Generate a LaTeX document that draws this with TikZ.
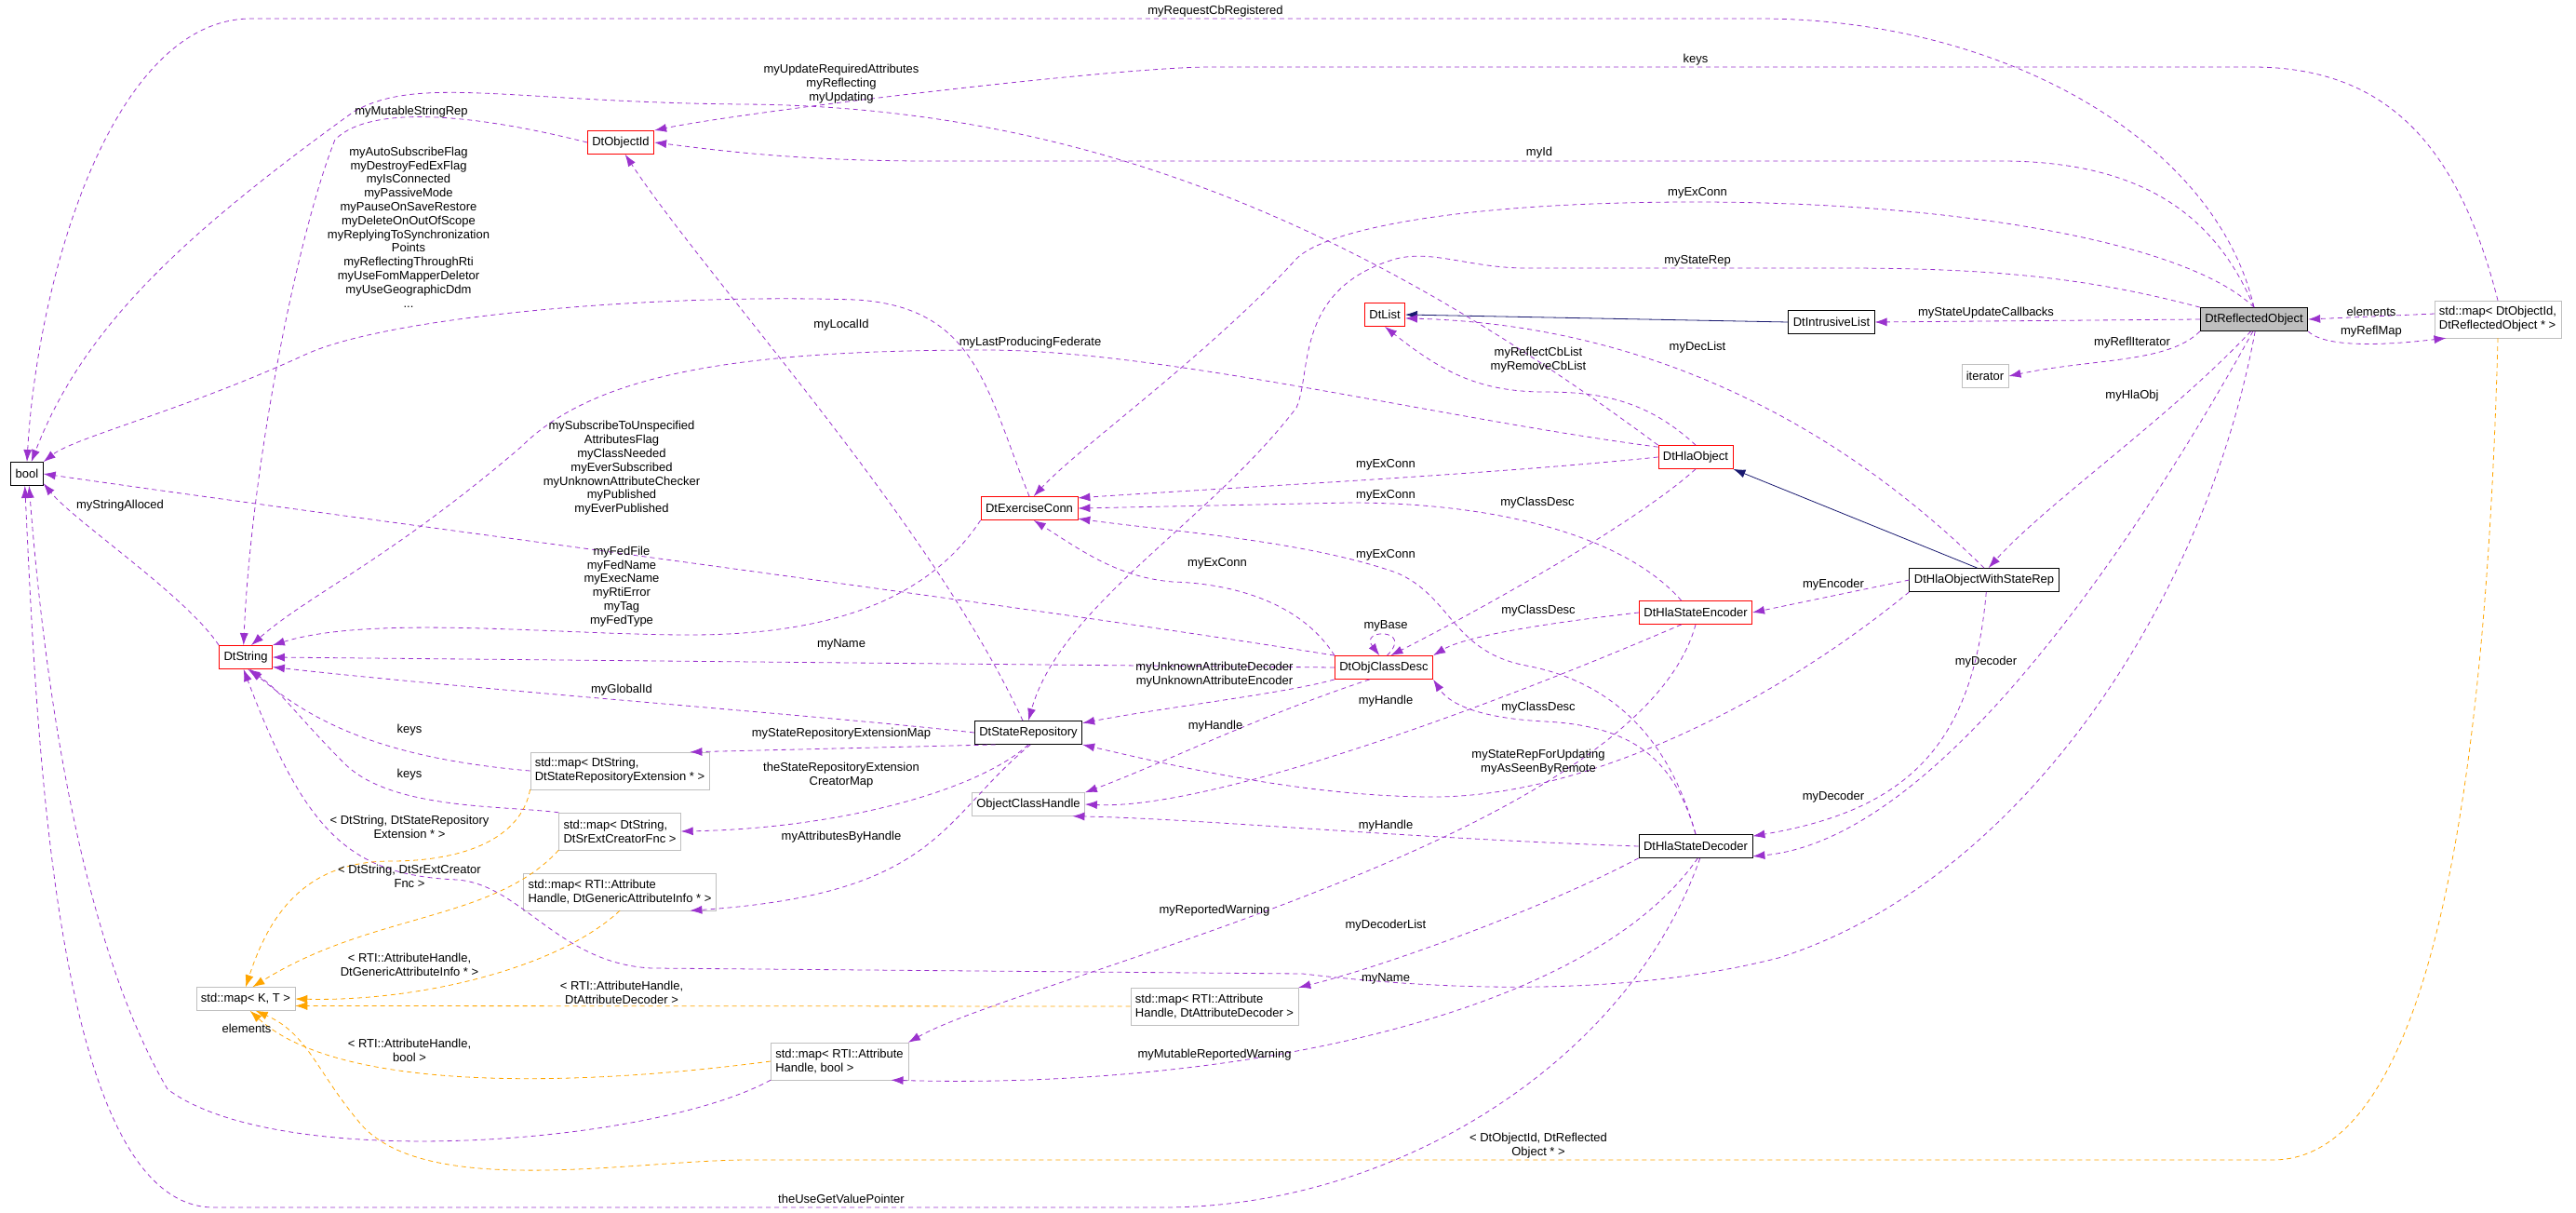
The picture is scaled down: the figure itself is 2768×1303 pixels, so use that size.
\documentclass[tikz,border=0pt]{standalone}
\usepackage{fontspec}
\setmainfont{Liberation Sans}
\usetikzlibrary{arrows.meta}
\definecolor{relpurple}{HTML}{9A32CD}
\definecolor{tplorange}{HTML}{FFA500}
\definecolor{inhnavy}{HTML}{191970}
\definecolor{boxgray}{HTML}{BFBFBF}
\begin{document}
\begin{tikzpicture}[x=1pt,y=-1pt,
font=\fontsize{13}{14.8}\selectfont,
cls/.style ={draw=black,thick,fill=white,inner xsep=5pt,minimum height=25pt},
redcls/.style ={cls,draw=red},
ext/.style ={draw=boxgray,fill=white,inner xsep=5pt,minimum height=25pt},
tmap/.style ={ext,align=left,minimum height=40pt},
rel/.style ={draw=relpurple,thick,dash pattern=on 5pt off 4pt,-{Latex[length=13pt,width=9pt]}},
tpl/.style ={draw=tplorange,thick,dash pattern=on 5pt off 4pt,-{Latex[length=13pt,width=9pt]}},
inh/.style ={draw=inhnavy,thick,-{Latex[length=13pt,width=9pt]}},
lbl/.style ={align=center,inner sep=0pt}]
\useasboundingbox (0,0) rectangle (2768,1303);
% classes
\node[cls] (bool) at (29,509) {bool};
\node[redcls] (oid) at (667,153) {DtObjectId};
\node[redcls] (exc) at (1106,546) {DtExerciseConn};
\node[redcls] (str) at (264,706) {DtString};
\node[cls] (sr) at (1105,787) {DtStateRepository};
\node[tmap] (m1) at (666,828) {std::map< DtString,\\DtStateRepositoryExtension * >};
\node[tmap] (m2) at (666,893) {std::map< DtString,\\DtSrExtCreatorFnc >};
\node[tmap] (m3) at (666,958) {std::map< RTI::Attribute\\Handle, DtGenericAttributeInfo * >};
\node[ext] (och) at (1105,864) {ObjectClassHandle};
\node[ext] (mkt) at (264,1073) {std::map< K, T >};
\node[tmap] (mb) at (902,1140) {std::map< RTI::Attribute\\Handle, bool >};
\node[tmap] (m4) at (1305,1081) {std::map< RTI::Attribute\\Handle, DtAttributeDecoder >};
\node[redcls] (ocd) at (1487,717) {DtObjClassDesc};
\node[redcls] (enc) at (1822,658) {DtHlaStateEncoder};
\node[cls] (dec) at (1822,909) {DtHlaStateDecoder};
\node[cls] (wsr) at (2132,623) {DtHlaObjectWithStateRep};
\node[redcls] (hla) at (1822,491) {DtHlaObject};
\node[redcls] (dl) at (1488,338) {DtList};
\node[cls] (il) at (1968,346) {DtIntrusiveList};
\node[cls,fill=boxgray] (ro) at (2422,343) {DtReflectedObject};
\node[tmap] (mref) at (2684,343) {std::map< DtObjectId,\\DtReflectedObject * >};
\node[ext] (it) at (2133,404) {iterator};

% inheritance
\draw[inh] (il.west) -- (dl.east);
\draw[inh] (wsr.120) -- (hla.south east);

% usage
\draw[rel] (ro.north) .. controls (2380,150) and (2150,20) .. (1890,20) -- (270,20) .. controls (120,20) and (40,300) .. (bool.north);
\draw[rel] (mref.north) .. controls (2640,150) and (2560,72) .. (2420,72) -- (1300,72) .. controls (1200,72) and (800,120) .. (oid.north east);
\draw[rel] (ro.north) .. controls (2380,230) and (2300,173) .. (2150,173) -- (1000,173) .. controls (850,173) and (760,160) .. (oid.east);
\draw[rel] (hla.north west) .. controls (1500,270) and (1200,115) .. (800,112) .. controls (550,110) and (450,80) .. (380,120) .. controls (200,250) and (90,350) .. (bool.70);
\draw[rel] (oid.west) .. controls (520,125) and (400,110) .. (360,150) .. controls (320,250) and (270,500) .. (str.100);
\draw[rel] (sr.115) .. controls (1000,560) and (760,300) .. (oid.-70);
\draw[rel] (exc.north) .. controls (1060,420) and (1050,330) .. (920,322) .. controls (700,315) and (420,340) .. (330,380) .. controls (200,440) and (80,470) .. (bool.north east);
\draw[rel] (ocd.north west) .. controls (1100,650) and (400,560) .. (bool.east);
\draw[rel] (str.north west) .. controls (200,640) and (80,560) .. (bool.-30);
\draw[rel] (ro.north) .. controls (2350,260) and (2100,217) .. (1822,217) .. controls (1550,217) and (1420,250) .. (1393,278) .. controls (1300,380) and (1160,480) .. (exc.70);
\draw[rel] (ro.north west) .. controls (2250,300) and (2150,288) .. (1980,288) -- (1640,288) .. controls (1580,288) and (1540,268) .. (1500,278) .. controls (1390,310) and (1410,400) .. (1393,438) .. controls (1300,560) and (1140,650) .. (sr.north);
\draw[rel] (ro.west) -- (il.east);
\draw[rel] (hla.north) .. controls (1770,430) and (1720,421) .. (1660,421) .. controls (1590,421) and (1550,400) .. (dl.south);
\draw[rel] (wsr.north) .. controls (2000,480) and (1800,350) .. (dl.-10);
\draw[rel] (ro.south west) .. controls (2330,390) and (2250,385) .. (it.east);
\draw[rel] (ro.south east) .. controls (2500,375) and (2570,370) .. (mref.200);
\draw[rel] (mref.175) -- (ro.east);
\draw[rel] (ro.255) .. controls (2330,450) and (2200,540) .. (wsr.70);
\draw[rel] (hla.west) .. controls (1600,510) and (1300,525) .. (exc.12);
\draw[rel] (enc.140) .. controls (1750,580) and (1620,540) .. (1450,540) -- (exc.east);
\draw[rel] (dec.north) .. controls (1790,780) and (1720,730) .. (1640,715) .. controls (1560,700) and (1560,640) .. (1500,615) .. controls (1400,580) and (1250,570) .. (exc.-12);
\draw[rel] (ocd.north west) .. controls (1400,650) and (1330,627) .. (1260,625) .. controls (1200,620) and (1160,590) .. (exc.290);
\draw[rel] (hla.south) .. controls (1760,560) and (1600,650) .. (ocd.60);
\draw[rel] (enc.west) .. controls (1700,665) and (1580,680) .. (ocd.north east);
\draw[rel] (dec.north) .. controls (1800,820) and (1760,780) .. (1660,775) .. controls (1600,772) and (1560,760) .. (ocd.south east);
\draw[rel] (ocd.75) .. controls (1520,675) and (1460,675) .. (ocd.110);
\draw[rel] (exc.south west) .. controls (1000,640) and (900,682) .. (741,682) .. controls (600,682) and (400,660) .. (str.north east);
\draw[rel] (ocd.west) -- (str.east);
\draw[rel] (hla.165) .. controls (1550,450) and (1250,376) .. (1060,376) .. controls (800,376) and (640,400) .. (560,480) .. controls (420,600) and (330,640) .. (str.65);
\draw[rel] (sr.west) .. controls (900,770) and (500,740) .. (str.-20);
\draw[rel] (ocd.south west) .. controls (1380,745) and (1250,760) .. (sr.10);
\draw[rel] (sr.200) -- (m1.15);
\draw[rel] (m1.west) .. controls (420,815) and (340,780) .. (str.-70);
\draw[rel] (sr.south) .. controls (1050,850) and (900,890) .. (m2.east);
\draw[rel] (m2.north west) .. controls (540,865) and (420,870) .. (370,820) .. controls (320,770) and (300,740) .. (str.-80);
\draw[rel] (sr.-80) .. controls (1010,880) and (1010,960) .. (m3.-15);
\draw[rel] (ocd.220) .. controls (1350,770) and (1250,820) .. (och.north east);
\draw[rel] (enc.220) .. controls (1600,760) and (1300,870) .. (och.east);
\draw[rel] (dec.west) .. controls (1500,900) and (1300,880) .. (och.-15);
\draw[rel] (wsr.south west) .. controls (1900,760) and (1700,856) .. (1540,856) .. controls (1400,856) and (1250,820) .. (sr.south east);
\draw[rel] (wsr.west) -- (enc.east);
\draw[rel] (wsr.-80) .. controls (2120,800) and (2050,870) .. (dec.10);
\draw[rel] (ro.-95) .. controls (2330,520) and (2100,900) .. (dec.-10);
\draw[rel] (ro.-85) .. controls (2371,640) and (2176,945) .. (1911,1029) .. controls (1750,1070) and (1560,1065) .. (1400,1046) -- (700,1040) .. controls (600,1035) and (560,950) .. (491,945) .. controls (380,940) and (330,900) .. (str.-100);
\draw[rel] (enc.south) .. controls (1760,900) and (1100,1050) .. (mb.north east);
\draw[rel] (dec.south west) .. controls (1650,980) and (1480,1040) .. (m4.north east);
\draw[rel] (dec.-80) .. controls (1700,1100) and (1300,1170) .. (mb.-20);
\draw[rel] (dec.-70) .. controls (1750,1140) and (1500,1297) .. (1250,1297) -- (230,1297) .. controls (60,1297) and (40,800) .. (bool.-100);
\draw[rel] (mb.south west) .. controls (700,1230) and (300,1260) .. (180,1170) .. controls (80,1000) and (45,700) .. (bool.-80);

% templates
\draw[tpl] (m1.south west) .. controls (560,900) and (500,925) .. (420,925) .. controls (330,925) and (290,980) .. (mkt.north);
\draw[tpl] (m2.south west) .. controls (530,990) and (400,980) .. (mkt.60);
\draw[tpl] (m3.south) .. controls (600,1040) and (450,1076) .. (mkt.east);
\draw[tpl] (m4.west) -- (mkt.-8);
\draw[tpl] (mb.west) .. controls (600,1170) and (360,1170) .. (mkt.-70);
\draw[tpl] (mref.south) .. controls (2670,900) and (2600,1246) .. (2442,1246) -- (804,1246) .. controls (680,1246) and (450,1290) .. (384,1203) .. controls (340,1150) and (330,1110) .. (mkt.-50);

% labels
\node[lbl] (l1) at (1306,12) {myRequestCbRegistered};
\node[lbl] (l2) at (1822,64) {keys};
\node[lbl] (l3) at (904,90) {myUpdateRequiredAttributes\\myReflecting\\myUpdating};
\node[lbl] (l4) at (442,120) {myMutableStringRep};
\node[lbl] (l5) at (1654,164) {myId};
\node[lbl] (l6) at (439,244) {myAutoSubscribeFlag\\myDestroyFedExFlag\\myIsConnected\\myPassiveMode\\myPauseOnSaveRestore\\myDeleteOnOutOfScope\\myReplyingToSynchronization\\Points\\myReflectingThroughRti\\myUseFomMapperDeletor\\myUseGeographicDdm\\...};
\node[lbl] (l7) at (1824,207) {myExConn};
\node[lbl] (l8) at (1824,280) {myStateRep};
\node[lbl] (l9) at (2134,336) {myStateUpdateCallbacks};
\node[lbl] (l10) at (2548,335) {elements};
\node[lbl] (l11) at (2548,356) {myReflMap};
\node[lbl] (l12) at (2291,368) {myReflIterator};
\node[lbl] (l13) at (1824,373) {myDecList};
\node[lbl] (l14) at (1653,387) {myReflectCbList\\myRemoveCbList};
\node[lbl] (l15) at (904,349) {myLocalId};
\node[lbl] (l16) at (1107,368) {myLastProducingFederate};
\node[lbl] (l17) at (2291,425) {myHlaObj};
\node[lbl] (l18) at (668,503) {mySubscribeToUnspecified\\AttributesFlag\\myClassNeeded\\myEverSubscribed\\myUnknownAttributeChecker\\myPublished\\myEverPublished};
\node[lbl] (l19) at (129,543) {myStringAlloced};
\node[lbl] (l20) at (1489,499) {myExConn};
\node[lbl] (l21) at (1489,532) {myExConn};
\node[lbl] (l22) at (1489,596) {myExConn};
\node[lbl] (l23) at (1308,605) {myExConn};
\node[lbl] (l24) at (1652,540) {myClassDesc};
\node[lbl] (l25) at (1653,656) {myClassDesc};
\node[lbl] (l26) at (1653,760) {myClassDesc};
\node[lbl] (l27) at (668,630) {myFedFile\\myFedName\\myExecName\\myRtiError\\myTag\\myFedType};
\node[lbl] (l28) at (1489,672) {myBase};
\node[lbl] (l29) at (904,692) {myName};
\node[lbl] (l30) at (1305,725) {myUnknownAttributeDecoder\\myUnknownAttributeEncoder};
\node[lbl] (l31) at (668,741) {myGlobalId};
\node[lbl] (l32) at (1306,780) {myHandle};
\node[lbl] (l33) at (1489,753) {myHandle};
\node[lbl] (l34) at (1489,887) {myHandle};
\node[lbl] (l35) at (440,784) {keys};
\node[lbl] (l36) at (440,832) {keys};
\node[lbl] (l37) at (904,788) {myStateRepositoryExtensionMap};
\node[lbl] (l38) at (904,833) {theStateRepositoryExtension\\CreatorMap};
\node[lbl] (l39) at (1970,628) {myEncoder};
\node[lbl] (l40) at (2134,711) {myDecoder};
\node[lbl] (l41) at (1970,856) {myDecoder};
\node[lbl] (l42) at (1653,819) {myStateRepForUpdating\\myAsSeenByRemote};
\node[lbl] (l43) at (440,888) {< DtString, DtStateRepository\\Extension * >};
\node[lbl] (l44) at (904,899) {myAttributesByHandle};
\node[lbl] (l45) at (440,941) {< DtString, DtSrExtCreator\\Fnc >};
\node[lbl] (l46) at (1305,978) {myReportedWarning};
\node[lbl] (l47) at (1489,994) {myDecoderList};
\node[lbl] (l48) at (440,1036) {< RTI::AttributeHandle,\\DtGenericAttributeInfo * >};
\node[lbl] (l49) at (1489,1051) {myName};
\node[lbl] (l50) at (668,1066) {< RTI::AttributeHandle,\\DtAttributeDecoder >};
\node[lbl] (l51) at (265,1105) {elements};
\node[lbl] (l52) at (440,1128) {< RTI::AttributeHandle,\\bool >};
\node[lbl] (l53) at (1305,1133) {myMutableReportedWarning};
\node[lbl] (l54) at (1653,1231) {< DtObjectId, DtReflected\\Object * >};
\node[lbl] (l55) at (904,1288) {theUseGetValuePointer};
\end{tikzpicture}
\end{document}
